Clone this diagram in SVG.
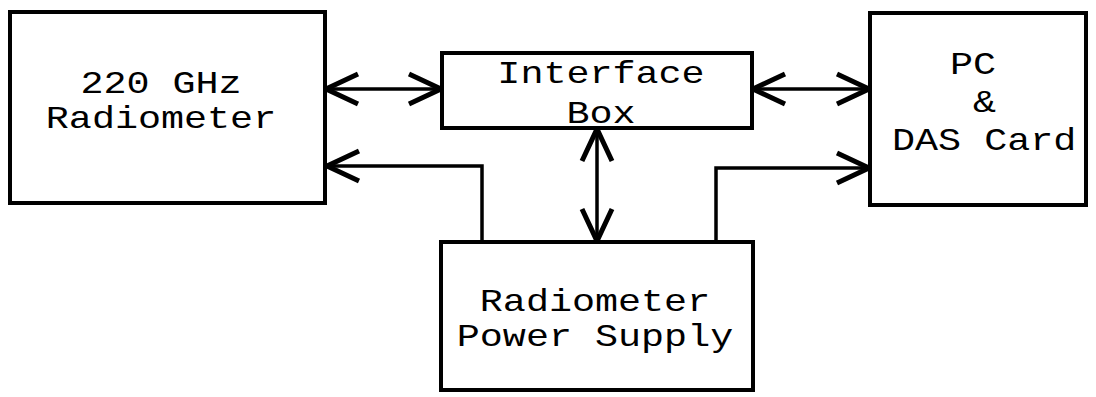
<svg xmlns="http://www.w3.org/2000/svg" width="1096" height="397" viewBox="0 0 1096 397">
<style>
.box{fill:#fff;stroke:#000;stroke-width:4}
.t{font-family:"Liberation Mono","Courier New",monospace;font-size:32px;fill:#000}
.c{fill:none;stroke:#000;stroke-width:3.5}
</style>
<defs>
<marker id="ah" markerUnits="userSpaceOnUse" viewBox="-36 -20 40 40" refX="0" refY="0" markerWidth="40" markerHeight="40" orient="auto-start-reverse" overflow="visible">
<path d="M-32,-15 L0,0 L-32,15" fill="none" stroke="#000" stroke-width="5"/>
</marker>
</defs>
<rect width="1096" height="397" fill="#fff"/>
<g id="connectors">
<line class="c" x1="326" y1="89" x2="441" y2="89" marker-start="url(#ah)" marker-end="url(#ah)"/>
<line class="c" x1="753" y1="89" x2="869" y2="89" marker-start="url(#ah)" marker-end="url(#ah)"/>
<line class="c" x1="597" y1="129" x2="597" y2="241" marker-start="url(#ah)" marker-end="url(#ah)"/>
<polyline class="c" points="482,242 482,166 327,166" marker-end="url(#ah)"/>
<polyline class="c" points="716,242 716,168 869,168" marker-end="url(#ah)"/>
</g>
<g id="radiometer">
<rect class="box" x="10" y="12" width="315" height="191"/>
<text class="t" transform="translate(161,93) scale(1.2,1)" text-anchor="middle">220 GHz</text>
<text class="t" transform="translate(161,128) scale(1.2,1)" text-anchor="middle">Radiometer</text>
</g>
<g id="interface">
<rect class="box" x="442" y="53" width="310" height="75"/>
<text class="t" transform="translate(601,83) scale(1.2,1)" text-anchor="middle">Interface</text>
<text class="t" transform="translate(601,123) scale(1.2,1)" text-anchor="middle">Box</text>
</g>
<g id="pc">
<rect class="box" x="870" y="13" width="216" height="192"/>
<text class="t" transform="translate(950,74) scale(1.2,1)">PC</text>
<text class="t" transform="translate(973,112) scale(1.2,1)">&amp;</text>
<text class="t" transform="translate(892,150) scale(1.2,1)">DAS Card</text>
</g>
<g id="powersupply">
<rect class="box" x="441" y="242" width="312" height="148"/>
<text class="t" transform="translate(595,311) scale(1.2,1)" text-anchor="middle">Radiometer</text>
<text class="t" transform="translate(595,346) scale(1.2,1)" text-anchor="middle">Power Supply</text>
</g>
</svg>
